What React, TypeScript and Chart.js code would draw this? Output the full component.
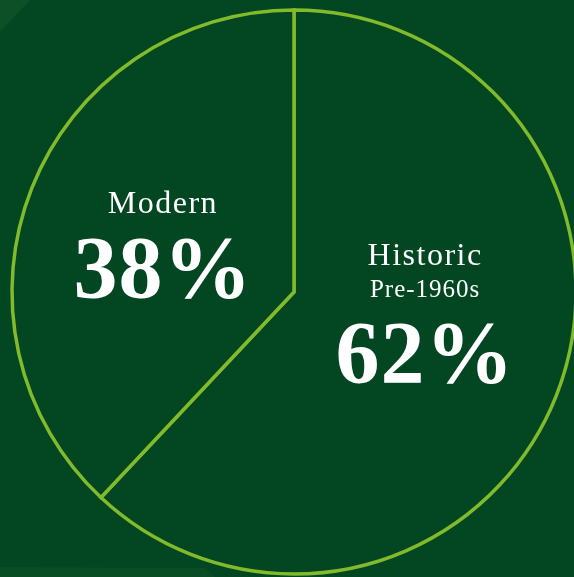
import React, { useEffect, useRef } from "react";
import { Chart, registerables } from "chart.js";

Chart.register(...registerables);

const categories = ["Historic", "Modern"];
const subLabels = ["Pre-1960s", ""];
const values = [62, 38];

const BG = "#024721";
const FILL = "#024721";
const BORDER = "#82BA2C";

// per-slice text line offsets relative to each slice's centroid (layout only)
const lineOffsets = [
  { title: -79, sub: -47, pct: 38 },
  { title: -27, sub: 0, pct: 57 },
];

const backgroundPlugin = {
  id: "bgPlugin",
  beforeDraw(chart: any) {
    const { ctx, width, height } = chart;
    ctx.save();
    ctx.fillStyle = BG;
    ctx.fillRect(0, 0, width, height);
    ctx.fillStyle = "#0D5028";
    ctx.beginPath();
    ctx.moveTo(0, 0);
    ctx.lineTo(30, 0);
    ctx.lineTo(0, 32);
    ctx.closePath();
    ctx.fill();
    ctx.fillStyle = "#0A4D25";
    ctx.beginPath();
    ctx.moveTo(0, 567);
    ctx.lineTo(205, 568);
    ctx.lineTo(215, height);
    ctx.lineTo(0, height);
    ctx.closePath();
    ctx.fill();
    ctx.restore();
  },
};

const labelPlugin = {
  id: "labelPlugin",
  afterDatasetsDraw(chart: any) {
    const { ctx } = chart;
    const meta = chart.getDatasetMeta(0);
    ctx.save();
    ctx.fillStyle = "#ffffff";
    ctx.textAlign = "center";
    ctx.textBaseline = "alphabetic";
    meta.data.forEach((arc: any, i: number) => {
      const pos = arc.tooltipPosition(false);
      const off = lineOffsets[i];
      ctx.font = '32px "Liberation Serif"';
      (ctx as any).letterSpacing = "1.5px";
      ctx.fillText(categories[i], pos.x, pos.y + off.title);
      if (subLabels[i]) {
        ctx.font = '25px "Liberation Serif"';
        (ctx as any).letterSpacing = "1px";
        ctx.fillText(subLabels[i], pos.x, pos.y + off.sub);
      }
      ctx.font = 'bold 88px "Liberation Serif"';
      (ctx as any).letterSpacing = "1px";
      ctx.fillText(values[i] + "%", pos.x, pos.y + off.pct);
    });
    ctx.restore();
  },
};

export default function App() {
  const canvasRef = useRef<HTMLCanvasElement | null>(null);

  useEffect(() => {
    if (!canvasRef.current) return;
    const chart = new Chart(canvasRef.current, {
      type: "pie",
      data: {
        labels: categories,
        datasets: [
          {
            data: values,
            backgroundColor: FILL,
            borderColor: BORDER,
            borderWidth: 3.5,
            borderJoinStyle: "miter",
            clip: false,
          } as any,
        ],
      },
      options: {
        responsive: false,
        animation: false,
        events: [],
        radius: 282,
        layout: { padding: { left: 14, right: 0, top: 7, bottom: 0 } },
        plugins: {
          legend: { display: false },
          tooltip: { enabled: false },
        },
      } as any,
      plugins: [backgroundPlugin, labelPlugin],
    });
    return () => chart.destroy();
  }, []);

  return (
    <div
      style={{
        position: "fixed",
        left: 0,
        top: 0,
        width: 574,
        height: 577,
        overflow: "hidden",
        background: BG,
      }}
    >
      <canvas ref={canvasRef} width={574} height={577} style={{ display: "block" }} />
    </div>
  );
}
